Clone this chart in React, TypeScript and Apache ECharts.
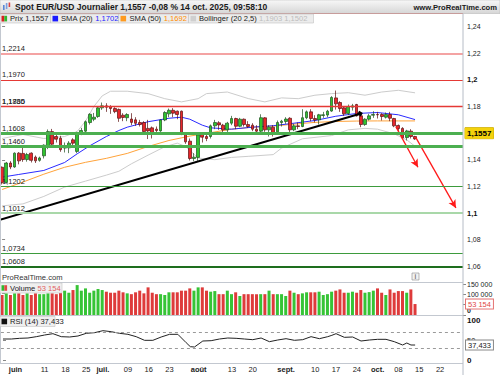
import { useEffect, useRef } from 'react';
import * as echarts from 'echarts';

// ---------- DATA ----------
const categories = [
  '28/05','29/05','30/05',
  '02/06','03/06','04/06','05/06','06/06','09/06','10/06','11/06','12/06','13/06','16/06','17/06','18/06','19/06','20/06','23/06','24/06','25/06','26/06','27/06','30/06',
  '01/07','02/07','03/07','04/07','07/07','08/07','09/07','10/07','11/07','14/07','15/07','16/07','17/07','18/07','21/07','22/07','23/07','24/07','25/07','28/07','29/07','30/07','31/07',
  '01/08','04/08','05/08','06/08','07/08','08/08','11/08','12/08','13/08','14/08','15/08','18/08','19/08','20/08','21/08','22/08','25/08','26/08','27/08','28/08','29/08',
  '01/09','02/09','03/09','04/09','05/09','08/09','09/09','10/09','11/09','12/09','15/09','16/09','17/09','18/09','19/09','22/09','23/09','24/09','25/09','26/09','29/09','30/09',
  '01/10','02/10','03/10','06/10','07/10','08/10','09/10','10/10','13/10','14/10',
  '15/10','16/10','17/10','20/10','21/10','22/10','23/10','24/10','27/10','28/10','29/10',
];

const xTickLabels: Record<string, string> = {
  '02/06': 'juin', '11/06': '11', '18/06': '18', '25/06': '25', '01/07': 'juil.',
  '09/07': '09', '16/07': '16', '23/07': '23', '01/08': 'août', '13/08': '13',
  '20/08': '20', '01/09': 'sept.', '10/09': '10', '17/09': '17', '24/09': '24',
  '01/10': 'oct.', '08/10': '08', '15/10': '15', '22/10': '22',
};
const monthLabels = ['juin', 'juil.', 'août', 'sept.', 'oct.'];

// open, close, low, high
const candles: number[][] = [
  [1.1344,1.1230,1.1215,1.1350],[1.1230,1.1376,1.1222,1.1384],[1.1376,1.1346,1.1330,1.1390],
  [1.1346,1.1450,1.1340,1.1456],[1.1450,1.1392,1.1366,1.1458],[1.1448,1.1402,1.1385,1.1495],
  [1.1402,1.1440,1.1386,1.1452],[1.1450,1.1396,1.1380,1.1456],[1.1420,1.1392,1.1376,1.1432],
  [1.1396,1.1414,1.1386,1.1424],[1.1430,1.1510,1.1410,1.1516],[1.1502,1.1612,1.1480,1.1628],
  [1.1612,1.1517,1.1490,1.1632],[1.1575,1.1555,1.1530,1.1590],[1.1562,1.1476,1.1460,1.1580],
  [1.1488,1.1502,1.1455,1.1530],[1.1490,1.1525,1.1450,1.1540],[1.1550,1.1525,1.1505,1.1562],
  [1.1463,1.1600,1.1450,1.1610],[1.1600,1.1620,1.1585,1.1640],[1.1615,1.1686,1.1605,1.1695],
  [1.1680,1.1742,1.1665,1.1750],[1.1705,1.1720,1.1690,1.1752],[1.1725,1.1790,1.1715,1.1796],
  [1.1790,1.1805,1.1775,1.1830],[1.1805,1.1795,1.1760,1.1825],[1.1800,1.1785,1.1745,1.1810],
  [1.1785,1.1762,1.1750,1.1795],[1.1778,1.1712,1.1685,1.1785],[1.1735,1.1718,1.1690,1.1750],
  [1.1716,1.1740,1.1690,1.1750],[1.1706,1.1681,1.1660,1.1750],[1.1700,1.1674,1.1655,1.1720],
  [1.1680,1.1665,1.1650,1.1700],[1.1680,1.1612,1.1595,1.1690],[1.1636,1.1617,1.1556,1.1700],
  [1.1640,1.1600,1.1560,1.1650],[1.1630,1.1620,1.1590,1.1650],[1.1617,1.1699,1.1610,1.1705],
  [1.1699,1.1755,1.1690,1.1765],[1.1745,1.1772,1.1720,1.1785],[1.1772,1.1750,1.1720,1.1788],
  [1.1765,1.1740,1.1705,1.1770],[1.1765,1.1590,1.1585,1.1770],[1.1590,1.1535,1.1520,1.1598],
  [1.1540,1.1410,1.1395,1.1560],[1.1410,1.1420,1.1390,1.1450],[1.1418,1.1587,1.1392,1.1598],
  [1.1590,1.1570,1.1530,1.1600],[1.1575,1.1560,1.1540,1.1598],[1.1575,1.1655,1.1560,1.1665],
  [1.1655,1.1680,1.1630,1.1700],[1.1678,1.1662,1.1625,1.1690],[1.1660,1.1625,1.1590,1.1670],
  [1.1625,1.1675,1.1600,1.1685],[1.1675,1.1710,1.1660,1.1730],[1.1710,1.1652,1.1630,1.1716],
  [1.1652,1.1705,1.1645,1.1715],[1.1705,1.1665,1.1650,1.1710],[1.1665,1.1650,1.1640,1.1690],
  [1.1660,1.1630,1.1615,1.1675],[1.1630,1.1615,1.1605,1.1660],[1.1615,1.1716,1.1605,1.1742],
  [1.1715,1.1625,1.1610,1.1720],[1.1625,1.1645,1.1575,1.1660],[1.1645,1.1605,1.1575,1.1660],
  [1.1610,1.1680,1.1600,1.1695],[1.1680,1.1690,1.1650,1.1700],[1.1688,1.1706,1.1670,1.1720],
  [1.1712,1.1625,1.1608,1.1720],[1.1625,1.1655,1.1615,1.1670],[1.1655,1.1650,1.1630,1.1680],
  [1.1650,1.1716,1.1645,1.1780],[1.1716,1.1760,1.1705,1.1770],[1.1760,1.1710,1.1690,1.1780],
  [1.1710,1.1700,1.1680,1.1735],[1.1700,1.1738,1.1665,1.1745],[1.1733,1.1738,1.1715,1.1760],
  [1.1736,1.1765,1.1720,1.1775],[1.1766,1.1868,1.1760,1.1878],[1.1865,1.1820,1.1777,1.1920],
  [1.1830,1.1785,1.1760,1.1840],[1.1790,1.1745,1.1730,1.1800],[1.1748,1.1800,1.1735,1.1815],
  [1.1795,1.1805,1.1770,1.1820],[1.1815,1.1730,1.1725,1.1820],[1.1730,1.1665,1.1645,1.1740],
  [1.1665,1.1705,1.1655,1.1712],[1.1705,1.1730,1.1695,1.1745],[1.1735,1.1740,1.1715,1.1765],
  [1.1740,1.1738,1.1710,1.1760],[1.1740,1.1725,1.1695,1.1750],[1.1720,1.1740,1.1710,1.1755],
  [1.1740,1.1712,1.1690,1.1760],[1.1710,1.1655,1.1645,1.1715],[1.1658,1.1635,1.1610,1.1665],
  [1.1636,1.1565,1.1555,1.1645],[1.1567,1.1617,1.1545,1.1625],[1.1615,1.1575,1.1560,1.1630],
  [1.1575,1.1557,1.1550,1.1580],
];

const volumes = [
  97000,105000,97000,105000,105000,97000,105000,97000,105000,101000,
  101000,105000,105000,101000,108000,118000,108000,121000,145000,118000,
  129000,108000,118000,126000,121000,113000,108000,108000,118000,110000,
  105000,101000,110000,118000,105000,134000,108000,101000,101000,97000,
  110000,110000,110000,118000,118000,129000,118000,134000,134000,118000,
  113000,116000,101000,101000,118000,101000,110000,92000,101000,101000,
  101000,101000,101000,101000,118000,101000,101000,101000,92000,118000,
  108000,101000,105000,110000,110000,110000,113000,97000,101000,113000,
  118000,124000,108000,108000,113000,108000,121000,108000,111000,118000,
  129000,108000,97000,124000,108000,116000,116000,108000,124000,53154,
];

// [candle index, value]
const sma20: number[][] = [
  [0,1.1270],[4,1.1290],[10,1.1320],[15,1.1380],[18,1.1445],[21,1.1505],[25,1.1575],
  [28,1.1620],[30,1.1645],[35,1.1686],[40,1.1712],[43,1.1720],[45,1.1705],[48,1.1660],
  [50,1.1640],[55,1.1630],[60,1.1645],[65,1.1656],[70,1.1675],[75,1.1695],[80,1.1727],
  [85,1.1748],[90,1.1755],[95,1.1738],[99,1.1702],
];
const sma50: number[][] = [
  [0,1.1177],[5,1.1233],[10,1.1292],[15,1.1344],[20,1.1381],[25,1.1411],[30,1.1448],
  [35,1.1500],[40,1.1545],[45,1.1578],[50,1.1604],[55,1.1630],[60,1.1645],[65,1.1653],
  [70,1.1668],[75,1.1681],[80,1.1688],[85,1.1691],[90,1.1692],[95,1.1692],[99,1.1692],
];
const bollUpper: number[][] = [
  [0,1.1560],[5,1.1590],[10,1.1560],[15,1.1575],[18,1.1612],[20,1.1690],[22,1.1800],
  [24,1.1880],[26,1.1915],[30,1.1915],[35,1.1897],[39,1.1859],[43,1.1835],[47,1.1859],
  [49,1.1897],[54,1.1909],[59,1.1860],[63,1.1835],[67,1.1865],[71,1.1859],[75,1.1885],
  [79,1.1897],[83,1.1904],[87,1.1885],[91,1.1909],[95,1.1922],[99,1.1903],
];
const bollLower: number[][] = [
  [0,1.1054],[5,1.1069],[10,1.1125],[15,1.1195],[20,1.1240],[25,1.1285],[28,1.1314],
  [31,1.1370],[35,1.1435],[39,1.1498],[42,1.1525],[44,1.1500],[47,1.1413],[51,1.1401],
  [55,1.1418],[59,1.1426],[65,1.1439],[67,1.1488],[72,1.1558],[79,1.1582],[83,1.1625],
  [87,1.1636],[90,1.1630],[94,1.1595],[97,1.1550],[99,1.1502],
];
const rsi: number[][] = [
  [0,52.5],[2,52.5],[4,54.2],[6,55],[8,58.3],[10,62.5],[12,65.8],[14,58.3],[16,57.5],
  [18,60],[20,66.7],[22,68.3],[24,73.3],[26,70.8],[28,66.7],[30,64.2],[32,58.3],[34,49.2],
  [36,49.2],[38,57.5],[40,64.2],[42,64.2],[44,43.3],[45,33.3],[46,32.5],[48,47.5],[50,48.3],
  [52,52.5],[54,55],[56,54.2],[58,52.5],[60,50.8],[62,55],[64,45.8],[66,50],[68,53.3],
  [70,49.2],[72,50.8],[74,58.3],[76,53.3],[78,58.3],[79,61.7],[80,65.8],[82,56.7],[84,57.5],
  [86,47.5],[88,50],[90,51.7],[92,51.7],[94,45.8],[96,37.5],[97,42.5],[98,37.5],[99,37.433],
];

const resistanceLevels = [1.2467, 1.2214, 1.197, 1.1835, 1.176];
const supportLevels = [1.1608, 1.146, 1.1202, 1.1012, 1.0734, 1.0608];

const trendLine = [[-0.5, 1.0950], [85.8, 1.1746]];
const arrowA = [[94.4, 1.1649], [99.7, 1.1344]];
const arrowB = [[99.2, 1.1567], [108.8, 1.1039]];

const lastPrice = 1.1557;
const changePct = '-0,08 %';
const stamp = '14 oct. 2025, 09:58:10';
const sma20Last = 1.1702;
const sma50Last = 1.1692;
const bollUpLast = 1.1903;
const bollLowLast = 1.1502;
const volumeLast = 53154;
const rsiLast = 37.433;

// ---------- HELPERS ----------
const fmt = (v: number, d: number) => v.toFixed(d).replace('.', ',');
const fmtVol = (v: number) => String(v).replace(/\B(?=(\d{3})+(?!\d))/g, ' ');
const FONT = '"Liberation Sans", Arial, sans-serif';

export default function App() {
  const ref = useRef<HTMLDivElement>(null);

  useEffect(() => {
    if (!ref.current) return;
    const chart = echarts.init(ref.current, undefined, { renderer: 'svg' });

    const resStyles = [
      { color: '#e53935', width: 1, label: false },
      { color: '#f4a3a3', width: 2, label: true },
      { color: '#e53935', width: 1, label: true },
      { color: '#e53935', width: 1, label: true },
      { color: '#e53935', width: 1.3, label: true },
    ];
    const supStyles = [
      { color: '#4caf50', width: 3 },
      { color: '#4caf50', width: 3 },
      { color: '#3d9b3d', width: 1 },
      { color: '#a9d8a9', width: 2 },
      { color: '#3d9b3d', width: 1 },
      { color: '#1e6e1e', width: 2 },
    ];
    const levelLabel = (v: number, show: boolean) => ({
      show,
      position: 'insideStartTop',
      formatter: fmt(v, 4),
      color: '#222',
      fontSize: 7.5,
      fontFamily: FONT,
      distance: [2, 1],
    });

    const priceMarkData: any[] = [
      ...resistanceLevels.map((v, k) => ({
        yAxis: v,
        lineStyle: { color: resStyles[k].color, width: resStyles[k].width, type: 'solid' },
        label: levelLabel(v, resStyles[k].label),
      })),
      ...supportLevels.map((v, k) => ({
        yAxis: v,
        lineStyle: { color: supStyles[k].color, width: supStyles[k].width, type: 'solid' },
        label: levelLabel(v, true),
      })),
      {
        yAxis: lastPrice,
        lineStyle: { color: 'rgba(0,0,0,0)', width: 0 },
        label: {
          show: true, position: 'end', formatter: fmt(lastPrice, 4),
          backgroundColor: '#f4d20c', color: '#000', fontWeight: 'bold',
          fontSize: 8, fontFamily: FONT, padding: [2, 2, 1, 2], distance: 2,
          borderColor: '#c9a800', borderWidth: 0.5,
        },
      },
    ];

    const line = (data: number[][], color: string, z = 3) => ({
      type: 'line', xAxisIndex: 1, yAxisIndex: 0, data, symbol: 'none',
      lineStyle: { color, width: 1 }, z, silent: true,
    });

    const option: any = {
      animation: false,
      textStyle: { fontFamily: FONT },
      grid: [
        { left: 0, right: 37, top: -2.92, height: 295.9 },
        { left: 0, right: 37, top: 282, height: 33 },
        { left: 0, right: 37, top: 320, height: 40 },
      ],
      xAxis: [
        { type: 'category', gridIndex: 0, data: categories, show: false },
        { type: 'value', gridIndex: 0, min: -0.5, max: 110.5, show: false },
        { type: 'category', gridIndex: 1, data: categories, show: false },
        { type: 'value', gridIndex: 2, min: -0.5, max: 110.5, show: false },
        {
          type: 'category', gridIndex: 2, data: categories, position: 'bottom',
          axisLine: { show: false, onZero: false }, axisTick: { show: false },
          splitLine: { show: false },
          axisLabel: {
            interval: 0, margin: 5, fontSize: 7.5, color: '#222',
            formatter: (v: string) => {
              const t = xTickLabels[v];
              if (!t) return '';
              return monthLabels.includes(t) ? `{m|${t}}` : `{d|${t}}`;
            },
            rich: {
              m: { fontWeight: 'bold', fontSize: 7.5, color: '#222', fontFamily: FONT },
              d: { fontSize: 7.5, color: '#222', fontFamily: FONT },
            },
          },
        },
      ],
      yAxis: [
        {
          type: 'value', gridIndex: 0, position: 'right', min: 1.04, max: 1.26, interval: 0.02,
          axisLine: { show: false }, splitLine: { show: false },
          axisTick: { show: true, length: 3, lineStyle: { color: '#888' } },
          axisLabel: {
            margin: 4, fontSize: 7, color: '#222',
            formatter: (v: number) => {
              const r = Math.round(v * 100) / 100;
              if (r < 1.05 || r > 1.25) return '';
              const s = String(r).replace('.', ',');
              return r === 1.2 || r === 1.1 ? `{b|${s}}` : s;
            },
            rich: { b: { fontWeight: 'bold', fontSize: 7.5, color: '#111', fontFamily: FONT } },
          },
        },
        {
          type: 'value', gridIndex: 1, position: 'right', min: 0, max: 160000, interval: 50000,
          axisLine: { show: false }, splitLine: { show: false },
          axisTick: { show: true, length: 3, lineStyle: { color: '#888' } },
          axisLabel: {
            margin: 4, fontSize: 7, color: '#222',
            formatter: (v: number) => (v === 0 ? '{z|0}' : v === 50000 ? '' : fmtVol(v)),
            rich: { z: { fontSize: 7, fontWeight: 'bold', padding: [0, 0, 10, 0], fontFamily: FONT } },
          },
        },
        {
          type: 'value', gridIndex: 2, position: 'right', min: 0, max: 100, interval: 50,
          axisLine: { show: false }, splitLine: { show: false },
          axisTick: { show: true, length: 3, lineStyle: { color: '#888' } },
          axisLabel: {
            margin: 4, fontSize: 7.5, color: '#222',
            formatter: (v: number) => (v === 50 ? '50' : `{b|${v}}`),
            rich: { b: { fontWeight: 'bold', fontSize: 8, color: '#111', fontFamily: FONT } },
          },
        },
      ],
      series: [
        line(bollUpper, '#cccccc', 2),
        line(bollLower, '#cccccc', 2),
        line(sma50, '#ffa33a', 3),
        {
          ...line(sma20, '#2b2bff', 3),
          markLine: {
            silent: true, symbol: ['none', 'none'], animation: false,
            label: { show: false },
            data: [
              [
                { coord: trendLine[0], symbol: 'none' },
                { coord: trendLine[1], symbol: 'diamond', symbolSize: 6 },
                { lineStyle: { color: '#000', width: 2, type: 'solid' } },
              ].slice(0, 2).map((p: any, k: number) => k === 0 ? { ...p, lineStyle: { color: '#000', width: 2, type: 'solid' } } : p),
              [
                { coord: arrowA[0], symbol: 'none', lineStyle: { color: '#ff1a1a', width: 1.3, type: 'solid' } },
                { coord: arrowA[1], symbol: 'arrow', symbolSize: [6, 8] },
              ],
              [
                { coord: arrowB[0], symbol: 'none', lineStyle: { color: '#ff1a1a', width: 1.3, type: 'solid' } },
                { coord: arrowB[1], symbol: 'arrow', symbolSize: [6, 8] },
              ],
            ],
          },
        },
        {
          type: 'candlestick', xAxisIndex: 0, yAxisIndex: 0, barWidth: 3.2, z: 4,
          data: candles,
          itemStyle: {
            color: '#2fc42f', color0: '#e8262b',
            borderColor: '#1f4f1f', borderColor0: '#5a0f0f', borderWidth: 0.7,
          },
          markLine: {
            silent: true, symbol: ['none', 'none'], animation: false,
            data: priceMarkData,
          },
        },
        {
          type: 'bar', xAxisIndex: 2, yAxisIndex: 1, barWidth: 3,
          data: volumes.map((v, i) => ({
            value: v,
            itemStyle: { color: candles[i][1] >= candles[i][0] ? '#36c436' : '#de3b3b' },
          })),
          markLine: {
            silent: true, symbol: ['none', 'none'], animation: false,
            data: [{
              yAxis: volumeLast,
              lineStyle: { color: 'rgba(0,0,0,0)', width: 0 },
              label: {
                show: true, position: 'end', formatter: fmtVol(volumeLast), distance: 3,
                backgroundColor: '#fff', borderColor: '#e57373', borderWidth: 1,
                color: '#e04848', fontSize: 7.5, fontFamily: FONT, padding: [1, 2, 0, 2],
              },
            }],
          },
        },
        {
          type: 'line', xAxisIndex: 3, yAxisIndex: 2, data: rsi, symbol: 'none',
          lineStyle: { color: '#222', width: 1 }, silent: true,
          markLine: {
            silent: true, symbol: ['none', 'none'], animation: false,
            data: [
              { yAxis: 70, lineStyle: { color: '#9a9a9a', width: 1, type: [3, 3] }, label: { show: false } },
              { yAxis: 30, lineStyle: { color: '#9a9a9a', width: 1, type: [3, 3] }, label: { show: false } },
              {
                yAxis: rsiLast,
                lineStyle: { color: 'rgba(0,0,0,0)', width: 0 },
                label: {
                  show: true, position: 'end', formatter: fmt(rsiLast, 3), distance: 3,
                  backgroundColor: '#fff', borderColor: '#888', borderWidth: 1,
                  color: '#222', fontSize: 7.5, fontFamily: FONT, padding: [1, 2, 0, 2],
                },
              },
            ],
          },
        },
      ],
      graphic: {
        elements: [
          // header bar
          {
            type: 'rect', z: 100, shape: { x: 0, y: 0, width: 500, height: 13.5 },
            style: {
              fill: new echarts.graphic.LinearGradient(0, 0, 0, 1, [
                { offset: 0, color: '#f8f8f8' }, { offset: 1, color: '#d6d6d6' },
              ]),
              stroke: '#b0b0b0', lineWidth: 0.5,
            },
          },
          { type: 'rect', z: 101, shape: { x: 3, y: 5, width: 1.6, height: 5 }, style: { fill: '#5a86d6' } },
          { type: 'rect', z: 101, shape: { x: 5.8, y: 3, width: 1.6, height: 6 }, style: { fill: '#7a9fe0' } },
          { type: 'rect', z: 101, shape: { x: 8.6, y: 2.5, width: 1.6, height: 4.5 }, style: { fill: '#d94040' } },
          {
            type: 'text', z: 101, x: 15, y: 7,
            style: {
              text: `Spot EUR/USD Journalier ${fmt(lastPrice, 4)} ${changePct} ${stamp}`,
              font: `bold 8.5px ${FONT}`, fill: '#1a1a1a', verticalAlign: 'middle', align: 'left',
            },
          },
          {
            type: 'text', z: 101, x: 497, y: 7,
            style: {
              text: 'www.ProRealTime.com', font: `bold 7.6px ${FONT}`, fill: '#1a1a1a',
              verticalAlign: 'middle', align: 'right',
            },
          },
          // legend row
          { type: 'rect', z: 100, shape: { x: 0, y: 14, width: 50.5, height: 9 }, style: { fill: '#ececec', stroke: '#c2c2c2', lineWidth: 0.6 } },
          { type: 'rect', z: 100, shape: { x: 50.5, y: 14, width: 68, height: 9 }, style: { fill: '#ececec', stroke: '#c2c2c2', lineWidth: 0.6 } },
          { type: 'rect', z: 100, shape: { x: 118.5, y: 14, width: 70, height: 9 }, style: { fill: '#ececec', stroke: '#c2c2c2', lineWidth: 0.6 } },
          { type: 'rect', z: 100, shape: { x: 188.5, y: 14, width: 125, height: 9 }, style: { fill: '#ececec', stroke: '#c2c2c2', lineWidth: 0.6 } },
          { type: 'rect', z: 101, shape: { x: 1.5, y: 15.8, width: 2.8, height: 5.6 }, style: { fill: '#d62020' } },
          { type: 'rect', z: 101, shape: { x: 4.3, y: 15.8, width: 2.8, height: 5.6 }, style: { fill: '#2fb82f' } },
          { type: 'rect', z: 101, shape: { x: 52.5, y: 15.8, width: 5.6, height: 5.6 }, style: { fill: '#1a1aff' } },
          { type: 'rect', z: 101, shape: { x: 120.5, y: 15.8, width: 5.6, height: 5.6 }, style: { fill: '#ff9a1f' } },
          { type: 'rect', z: 101, shape: { x: 190.5, y: 15.8, width: 5.6, height: 5.6 }, style: { fill: '#cfcfcf' } },
          {
            type: 'text', z: 101, x: 10, y: 18.8,
            style: { text: `Prix ${fmt(lastPrice, 4)}`, font: `7.6px ${FONT}`, fill: '#222', verticalAlign: 'middle' },
          },
          {
            type: 'text', z: 101, x: 61, y: 18.8,
            style: {
              text: `SMA (20) {v|${fmt(sma20Last, 4)}}`, font: `7.6px ${FONT}`, fill: '#222', verticalAlign: 'middle',
              rich: { v: { fill: '#2323ff', font: `7.6px ${FONT}` } },
            },
          },
          {
            type: 'text', z: 101, x: 129.5, y: 18.8,
            style: {
              text: `SMA (50) {v|${fmt(sma50Last, 4)}}`, font: `7.6px ${FONT}`, fill: '#222', verticalAlign: 'middle',
              rich: { v: { fill: '#ff8c00', font: `7.6px ${FONT}` } },
            },
          },
          {
            type: 'text', z: 101, x: 199, y: 18.8,
            style: {
              text: `Bollinger (20 2,5) {v|${fmt(bollUpLast, 4)} ${fmt(bollLowLast, 4)}}`,
              font: `7.6px ${FONT}`, fill: '#222', verticalAlign: 'middle',
              rich: { v: { fill: '#bdbdbd', font: `7.6px ${FONT}` } },
            },
          },
          // panel frames
          { type: 'line', z: 90, shape: { x1: 0, y1: 282.5, x2: 463, y2: 282.5 }, style: { stroke: '#c3c8d0', lineWidth: 1 } },
          { type: 'line', z: 90, shape: { x1: 0, y1: 315.5, x2: 463, y2: 315.5 }, style: { stroke: '#c3c8d0', lineWidth: 1 } },
          { type: 'line', z: 90, shape: { x1: 0, y1: 363.5, x2: 463, y2: 363.5 }, style: { stroke: '#c3c8d0', lineWidth: 1 } },
          { type: 'line', z: 90, shape: { x1: 463, y1: 13.5, x2: 463, y2: 375 }, style: { stroke: '#b6bcc6', lineWidth: 1 } },
          { type: 'line', z: 90, shape: { x1: 0.5, y1: 13.5, x2: 0.5, y2: 363.5 }, style: { stroke: '#c3c8d0', lineWidth: 1 } },
          // watermark & info icon
          {
            type: 'text', z: 101, x: 2, y: 277.5,
            style: { text: 'ProRealTime.com', font: `7.6px ${FONT}`, fill: '#333', verticalAlign: 'middle' },
          },
          { type: 'rect', z: 101, shape: { x: 412, y: 273, width: 7, height: 7 }, style: { fill: '#f2f2f2', stroke: '#9a9a9a', lineWidth: 0.7 } },
          {
            type: 'text', z: 102, x: 415.5, y: 276.7,
            style: { text: 'i', font: `bold 6.5px ${FONT}`, fill: '#777', align: 'center', verticalAlign: 'middle' },
          },
          // volume legend
          { type: 'rect', z: 100, shape: { x: 0, y: 283, width: 62, height: 10 }, style: { fill: '#efefef', stroke: '#c2c2c2', lineWidth: 0.6 } },
          { type: 'rect', z: 101, shape: { x: 1.5, y: 285.2, width: 2.8, height: 5.6 }, style: { fill: '#2fb82f' } },
          { type: 'rect', z: 101, shape: { x: 4.3, y: 285.2, width: 2.8, height: 5.6 }, style: { fill: '#e04848' } },
          {
            type: 'text', z: 101, x: 10, y: 288.2,
            style: {
              text: `Volume {v|${fmtVol(volumeLast)}}`, font: `7.6px ${FONT}`, fill: '#222', verticalAlign: 'middle',
              rich: { v: { fill: '#e26060', font: `7.6px ${FONT}` } },
            },
          },
          // rsi legend
          { type: 'rect', z: 100, shape: { x: 0, y: 316.5, width: 55, height: 10 }, style: { fill: '#efefef', stroke: '#c2c2c2', lineWidth: 0.6 } },
          { type: 'rect', z: 101, shape: { x: 1.5, y: 318.7, width: 5.6, height: 5.6 }, style: { fill: '#111' } },
          {
            type: 'text', z: 101, x: 10, y: 321.7,
            style: { text: `RSI (14) ${fmt(rsiLast, 3)}`, font: `7.6px ${FONT}`, fill: '#222', verticalAlign: 'middle' },
          },
        ],
      },
    };

    chart.setOption(option);
    return () => chart.dispose();
  }, []);

  return (
    <div
      ref={ref}
      style={{ position: 'fixed', left: 0, top: 0, width: 500, height: 375, background: '#fff' }}
    />
  );
}
